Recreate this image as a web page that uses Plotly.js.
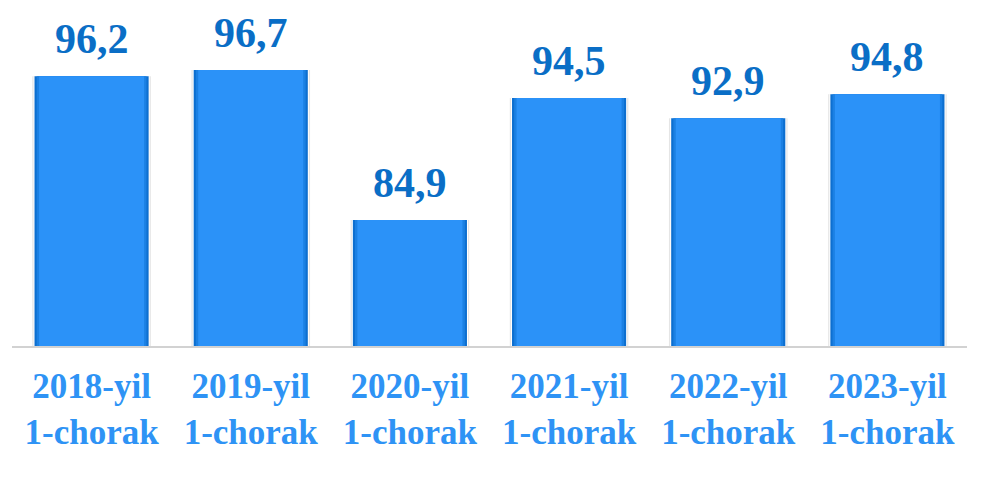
<!DOCTYPE html>
<html>
<head>
<meta charset="utf-8">
<script src="https://cdn.plot.ly/plotly-3.0.1.min.js"></script>
<style>html,body{margin:0;padding:0;background:#fff;}#chart{width:1002px;height:485px;}</style>
</head>
<body>
<div id="chart"></div>
<script>
const categories = ["2018-yil<br>1-chorak", "2019-yil<br>1-chorak", "2020-yil<br>1-chorak", "2021-yil<br>1-chorak", "2022-yil<br>1-chorak", "2023-yil<br>1-chorak"];
const values = [96.2, 96.7, 84.9, 94.5, 92.9, 94.8];
const valueLabels = values.map(v => v.toFixed(1).replace('.', ','));

const FONT = '"Liberation Serif", "Times New Roman", serif';

function barLayer(width, color, lineColor, lineWidth) {
  return {
    type: 'bar', x: categories, y: values, width: width,
    marker: { color: color, line: { color: lineColor, width: lineWidth } },
    hoverinfo: 'skip', showlegend: false
  };
}

const traces = [
  barLayer(0.745, 'rgba(0,0,0,0.10)', 'rgba(0,0,0,0)', 0),
  barLayer(0.73, '#ffffff', '#ffffff', 0),
  barLayer(0.717, '#0d6fd0', '#ffffff', 0),
  barLayer(0.69, '#1b80e3', '#1b80e3', 0),
  barLayer(0.66, '#2b92f8', '#2b92f8', 0)
];

const annotations = categories.map((c, i) => ({
  x: c, y: values[i], xref: 'x', yref: 'y',
  text: valueLabels[i], showarrow: false,
  yanchor: 'bottom', yshift: 12,
  font: { family: FONT, size: 42, color: '#0a6ec6', weight: 'bold' }
}));

const layout = {
  width: 1002, height: 485,
  margin: { l: 12, r: 35, t: 0, b: 139 },
  paper_bgcolor: '#ffffff', plot_bgcolor: '#ffffff',
  barmode: 'overlay',
  xaxis: {
    type: 'category', showgrid: false, zeroline: false,
    showline: true, linecolor: '#d2d2d2', linewidth: 2,
    ticks: '', ticklabelstandoff: 8,
    tickfont: { family: FONT, size: 35, color: '#2e93f5', weight: 'bold' }
  },
  yaxis: {
    range: [75, 102.2], visible: false, showgrid: false, zeroline: false
  },
  annotations: annotations
};

Plotly.newPlot('chart', traces, layout, { staticPlot: true, displayModeBar: false });
</script>
</body>
</html>
